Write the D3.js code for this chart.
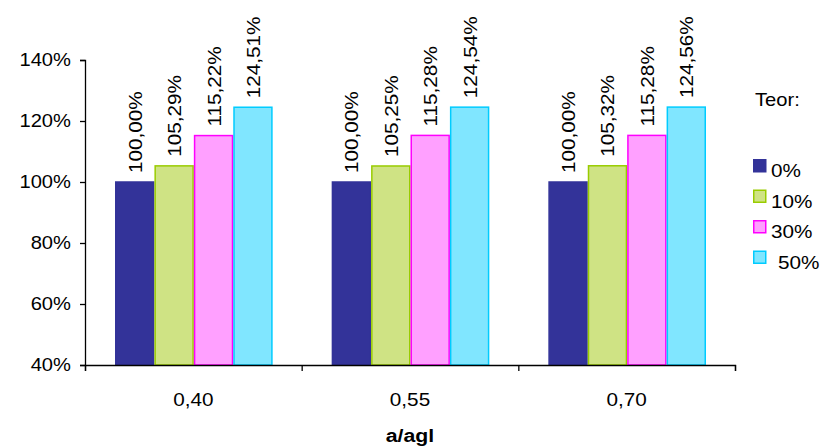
<!DOCTYPE html>
<html>
<head>
<meta charset="utf-8">
<script src="https://cdn.jsdelivr.net/npm/d3@7"></script>
<style>
  body { margin: 0; background: #fff; }
  svg text { font-family: Arial, "Liberation Sans", sans-serif; fill: #000; }
</style>
</head>
<body>
<svg id="chart" width="825" height="447"></svg>
<script>
// categories (a/agl) and series (Teor)
var categories = ["0,40", "0,55", "0,70"];
var series = ["0%", "10%", "30%", "50%"];
var values0 = [1.0000, 1.0000, 1.0000];
var values10 = [1.0529, 1.0525, 1.0532];
var values30 = [1.1522, 1.1528, 1.1528];
var values50 = [1.2451, 1.2454, 1.2456];
var yTicks = [0.4, 0.6, 0.8, 1.0, 1.2, 1.4];

var fills = ["#333399", "#CFE384", "#FFA0FF", "#80E6FF"];
var strokes = ["#333399", "#99CC00", "#FF00FF", "#00CCFF"];
var table = [values0, values10, values30, values50];

var svg = d3.select("#chart");
var stretch = 1.12; // the original text is a bit wider than Arial

var margin = {left: 85, right: 90, top: 60, bottom: 82};
var width = 825 - margin.left - margin.right,
    height = 447 - margin.top - margin.bottom;

var g = svg.append("g").attr("transform", "translate(" + margin.left + "," + margin.top + ")");

var x0 = d3.scaleBand().domain(categories).range([0, width]).paddingInner(0).paddingOuter(0);
var x1 = d3.scaleBand().domain(series).range([30, x0.bandwidth() - 29]).padding(0);
var y = d3.scaleLinear().domain([0.4, 1.4]).range([height, 0]);

var fmtPct = function(d) { return Math.round(d * 100) + "%"; };
var fmtLbl = function(d) { return (d * 100).toFixed(2).replace(".", ",") + "%"; };

var rows = function(d, ci) {
  return series.map(function(s, si) { return {s: s, si: si, v: table[si][ci]}; });
};

// bars
var groups = g.append("g").selectAll("g")
    .data(categories)
  .enter().append("g")
    .attr("transform", function(d) { return "translate(" + x0(d) + ",0)"; });

groups.selectAll("rect")
    .data(rows)
  .enter().append("rect")
    .attr("x", function(d) { return x1(d.s) + 0.75; })
    .attr("y", function(d) { return y(d.v); })
    .attr("width", x1.bandwidth() - 1.5)
    .attr("height", function(d) { return y(0.4) - y(d.v); })
    .style("fill", function(d) { return fills[d.si]; })
    .style("stroke", function(d) { return strokes[d.si]; })
    .style("stroke-width", 1.5);

groups.selectAll("text")
    .data(rows)
  .enter().append("text")
    .attr("transform", function(d) {
      return "translate(" + (x1(d.s) + x1.bandwidth() / 2 + 7) + "," + (y(d.v) - 9) + ") rotate(-90) scale(" + stretch + ",1)";
    })
    .style("font-size", "18.5px")
    .text(function(d) { return fmtLbl(d.v); });

// y axis
var yAxis = g.append("g")
    .call(d3.axisLeft(y).tickValues(yTicks).tickFormat(fmtPct).tickSize(5).tickSizeOuter(5).tickPadding(9));
yAxis.selectAll("path, line").attr("stroke", "#000").attr("stroke-width", 1.3);
yAxis.selectAll(".tick text").each(function() {
  var t = d3.select(this);
  var xx = +t.attr("x");
  t.attr("x", null)
    .style("font-size", "18px")
    .attr("transform", "translate(" + xx + ",0) scale(" + stretch + ",1)");
});

// x axis: ticks at the category boundaries
var xb = d3.scaleLinear().domain([0, categories.length]).range([0, width]);
var xAxis = g.append("g")
    .attr("transform", "translate(0," + height + ")")
    .call(d3.axisBottom(xb).tickValues(d3.range(categories.length + 1)).tickFormat("").tickSize(6).tickSizeOuter(6));
xAxis.selectAll("path, line").attr("stroke", "#000").attr("stroke-width", 1.3);

g.append("g").selectAll("text")
    .data(categories)
  .enter().append("text")
    .attr("text-anchor", "middle")
    .attr("transform", function(d) { return "translate(" + (x0(d) + x0.bandwidth() / 2) + "," + (height + 41) + ") scale(" + stretch + ",1)"; })
    .style("font-size", "18.5px")
    .text(function(d) { return d; });

// axis title
svg.append("text")
    .attr("text-anchor", "middle")
    .attr("transform", "translate(" + (margin.left + width / 2) + ",442) scale(" + stretch + ",1)")
    .style("font-size", "19px")
    .style("font-weight", "bold")
    .text("a/agl");

// legend
var legend = svg.append("g").attr("transform", "translate(753,0)");
legend.append("text")
    .attr("transform", "translate(2,106) scale(" + stretch + ",1)")
    .style("font-size", "18px")
    .text("Teor:");

var items = legend.selectAll("g.item")
    .data(series)
  .enter().append("g")
    .attr("class", "item")
    .attr("transform", function(d, i) { return "translate(0," + (159 + i * 30.5) + ")"; });

items.append("rect")
    .attr("x", 0.75).attr("y", 0.75)
    .attr("width", 12).attr("height", 12)
    .style("fill", function(d, i) { return fills[i]; })
    .style("stroke", function(d, i) { return strokes[i]; })
    .style("stroke-width", 1.5);

items.append("text")
    .attr("transform", function(d, i) { return "translate(" + (i === 3 ? 25 : 18) + ",18) scale(" + stretch + ",1)"; })
    .style("font-size", "18.5px")
    .text(function(d) { return d; });
</script>
</body>
</html>
